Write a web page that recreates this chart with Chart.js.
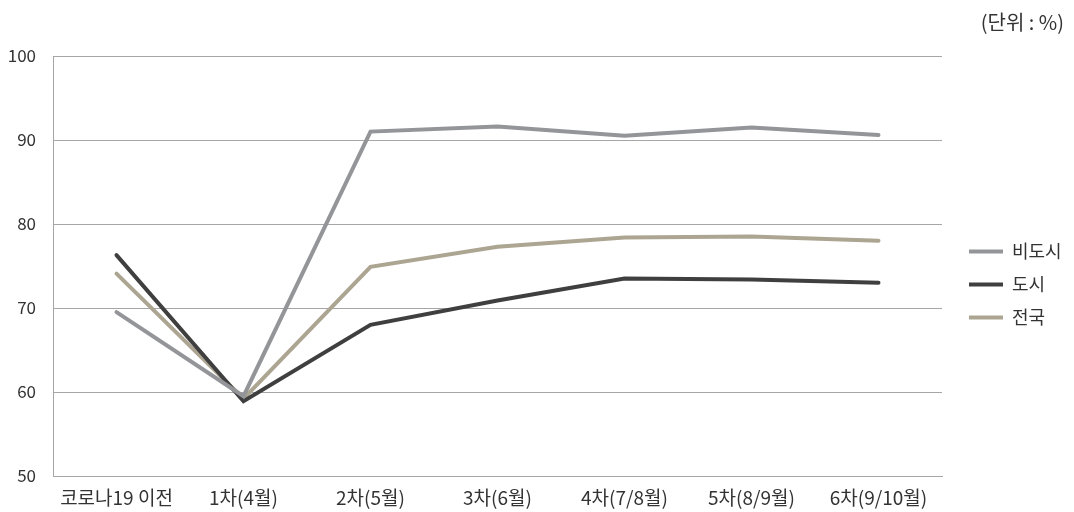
<!DOCTYPE html>
<html>
<head>
<meta charset="utf-8">
<script src="https://cdn.jsdelivr.net/npm/chart.js@4"></script>
<style>
  html, body { margin: 0; padding: 0; background: #fff; }
  #wrap { width: 1074px; height: 512px; }
</style>
</head>
<body>
<div id="wrap"><canvas id="grafico"></canvas></div>
<script>
const categorias = ["코로나19 이전", "1차(4월)", "2차(5월)", "3차(6월)", "4차(7/8월)", "5차(8/9월)", "6차(9/10월)"];
const naoUrbano = [69.5, 59.5, 91.0, 91.6, 90.5, 91.5, 90.6];
const urbano = [76.3, 58.9, 68.0, 70.9, 73.5, 73.4, 73.0];
const nacional = [74.1, 59.2, 74.9, 77.3, 78.4, 78.5, 78.0];
const ticksY = [50, 60, 70, 80, 90, 100];

const fonte = "'Noto Sans CJK KR', 'Noto Sans', sans-serif";

new Chart(document.getElementById("grafico").getContext("2d"), {
  type: "line",
  data: {
    labels: categorias,
    datasets: [
      {
        label: "비도시",
        data: naoUrbano,
        borderColor: "#949599",
        backgroundColor: "#949599",
        borderWidth: 4,
        borderCapStyle: "round",
        pointRadius: 0,
        tension: 0,
      },
      {
        label: "도시",
        data: urbano,
        borderColor: "#3f3f3f",
        backgroundColor: "#3f3f3f",
        borderWidth: 4,
        borderCapStyle: "round",
        pointRadius: 0,
        tension: 0,
      },
      {
        label: "전국",
        data: nacional,
        borderColor: "#aca592",
        backgroundColor: "#aca592",
        borderWidth: 4,
        borderCapStyle: "round",
        pointRadius: 0,
        tension: 0,
      },
    ],
  },
  options: {
    animation: false,
    responsive: true,
    maintainAspectRatio: false,
    layout: { padding: { left: 0, right: 10, top: 4, bottom: 0 } },
    plugins: {
      legend: {
        position: "right",
        maxWidth: 110,
        title: {
          display: true,
          text: "",
          font: { size: 14 },
          padding: { top: 0, bottom: 36 }, // empurra a legenda pra baixo
        },
        labels: {
          usePointStyle: true,
          pointStyle: "line",
          pointStyleWidth: 34,
          padding: 15,
          color: "#333",
          font: { family: fonte, size: 18 },
        },
      },
      title: {
        display: true,
        text: "(단위 : %)",
        align: "end",
        color: "#333",
        font: { family: fonte, size: 20, weight: "normal" },
        padding: { top: 6, bottom: 22 },
      },
      tooltip: { enabled: false },
    },
    scales: {
      x: {
        offset: true,
        grid: { display: false, drawTicks: false },
        border: { display: true, color: "#a6a6a6", width: 1 },
        ticks: {
          color: "#333",
          padding: 10,
          maxRotation: 0,
          font: { family: fonte, size: 19 },
        },
        afterFit: (escala) => {
          escala.height = 36;
        },
      },
      y: {
        min: 50,
        max: 100,
        afterBuildTicks: (eixo) => {
          eixo.ticks = ticksY.map((v) => ({ value: v }));
        },
        grid: { color: "#a6a6a6", lineWidth: 1, drawTicks: false },
        border: { display: true, color: "#a6a6a6", width: 1 },
        ticks: {
          color: "#333",
          padding: 17,
          font: { family: fonte, size: 17 },
        },
        afterFit: (escala) => {
          escala.width = 53;
        },
      },
      // eixo vazio so pra abrir espaco entre o grafico e a legenda
      espaco: {
        type: "linear",
        position: "right",
        grid: { display: false },
        border: { display: false },
        ticks: { display: false },
        afterFit: (escala) => {
          escala.width = 12;
        },
      },
    },
  },
});
</script>
</body>
</html>
